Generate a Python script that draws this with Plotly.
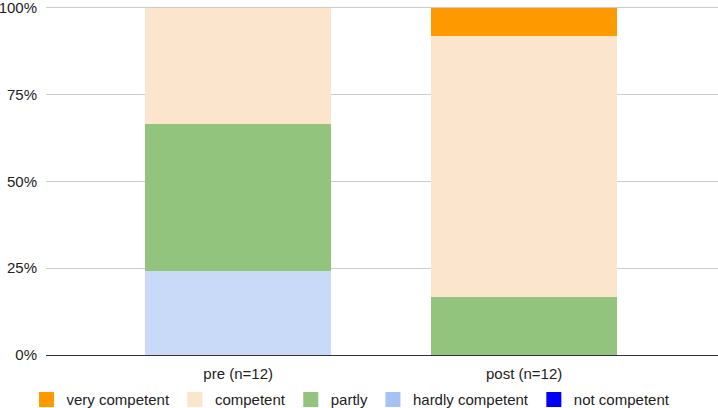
import plotly.graph_objects as go

categories = ["pre (n=12)", "post (n=12)"]
# stacking order, bottom to top
series_names = ["not competent", "hardly competent", "partly", "competent", "very competent"]
not_competent = [0, 0]
hardly_competent = [24.3, 0]
partly = [42.3, 16.7]
competent = [33.4, 75.0]
very_competent = [0, 8.3]
bar_colors = ["#0000ff", "#c9daf8", "#93c47d", "#fce5cd", "#ff9900"]
legend_colors = ["#0000ff", "#a4c2f4", "#93c47d", "#fce5cd", "#ff9900"]
legend_order = ["very competent", "competent", "partly", "hardly competent", "not competent"]
tick_vals = [0, 25, 50, 75, 100]
tick_text = ["0%", "25%", "50%", "75%", "100%"]

values = [not_competent, hardly_competent, partly, competent, very_competent]

fig = go.Figure()
for name, vals, col in zip(series_names, values, bar_colors):
    fig.add_trace(go.Bar(
        x=categories, y=vals, name=name, width=0.65,
        marker=dict(color=col, line=dict(width=0)),
        showlegend=False, hoverinfo="skip",
    ))

# legend entries (square swatches like the reference)
for name in legend_order:
    col = legend_colors[series_names.index(name)]
    fig.add_trace(go.Scatter(
        x=[None], y=[None], mode="markers", name=name,
        marker=dict(symbol="square", size=15, color=col),
        showlegend=True, hoverinfo="skip",
    ))

fig.update_layout(
    barmode="stack",
    width=718, height=408,
    margin=dict(l=46, r=0, t=0, b=53, autoexpand=False),
    paper_bgcolor="white", plot_bgcolor="white",
    font=dict(family="Liberation Sans, Arial, sans-serif", size=15, color="#222222"),
    showlegend=True,
    legend=dict(orientation="h", x=-0.029, xanchor="left", y=-0.126, yanchor="middle",
                font=dict(size=15, color="#222222"), itemwidth=30, itemsizing="trace",
                traceorder="normal", tracegroupgap=0, bgcolor="rgba(0,0,0,0)"),
    xaxis=dict(range=[-0.672, 1.678], showgrid=False, ticks="", showline=False,
               ticklabelstandoff=8, tickfont=dict(size=15)),
    yaxis=dict(range=[0, 102.2], tickmode="array", tickvals=tick_vals, ticktext=tick_text,
               showgrid=True, gridcolor="#cccccc", gridwidth=1,
               zeroline=True, zerolinecolor="#333333", zerolinewidth=1,
               ticks="", ticklabelstandoff=8, ticklabeloverflow="allow",
               tickfont=dict(size=15)),
)

fig.write_html("out.html")
